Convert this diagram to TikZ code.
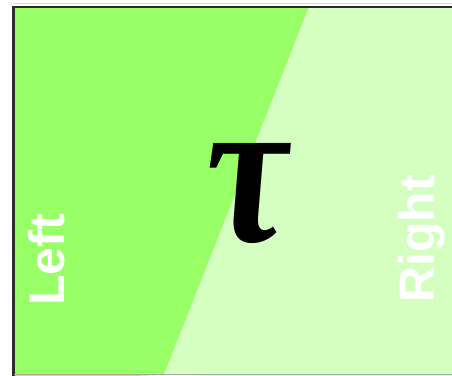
\documentclass[tikz,border=0pt]{standalone}
\usepackage{fontspec}
\newfontfamily\labelfont{Liberation Sans}
\newfontfamily\taufont{Liberation Serif}
\definecolor{leftgreen}{RGB}{153,255,102}
\definecolor{rightgreen}{RGB}{212,255,192}
\definecolor{framegray}{RGB}{45,45,45}
\tikzset{
  sidelabel/.style={text=white, font=\labelfont\bfseries\fontsize{50}{50}\selectfont, inner sep=0pt, rotate=90, anchor=base west},
}
\begin{document}
\begin{tikzpicture}[x=1pt,y=1pt]
\useasboundingbox (0,0) rectangle (452,375);
\coordinate (tl) at (13.5,368);
\coordinate (bl) at (13.5,-5);
\coordinate (tm) at (309,368);
\coordinate (bm) at (164,0);
\coordinate (tr) at (460,368);
\coordinate (br) at (460,-5);
\fill[leftgreen] (bl) -- (tl) -- (tm) -- (bm) -- cycle;
\fill[rightgreen] (bm) -- (tm) -- (tr) -- (br) -- cycle;
\draw[gray!30, line width=1pt] (13.5,371.5) -- (460,371.5);
\draw[framegray, line width=2.5pt] (bl) -- (tl) -- (tr);
\draw[gray!70, line width=1pt] (13.5,0.5) -- (460,0.5);
\node[inner sep=0pt, xslant=-0.07, transform shape] (tau) at (249,181) {\resizebox{82pt}{98pt}{\taufont\bfseries\itshape τ}};
\node[sidelabel] (left) at (64,69) {Left};
\node[sidelabel] (right) at (434,72) {Right};
\end{tikzpicture}
\end{document}
